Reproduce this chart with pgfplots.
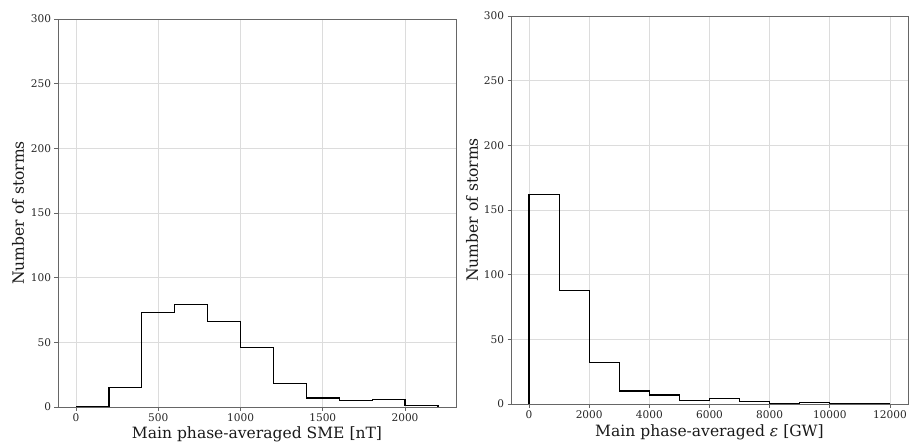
\documentclass[border=0pt]{standalone}
\usepackage{pgfplots}
\pgfplotsset{compat=1.18}
\usepackage{fontspec}
\setmainfont{DejaVu Serif}

\definecolor{framegray}{HTML}{666666}
\definecolor{gridgray}{HTML}{DCDCDC}
\definecolor{labelgray}{HTML}{262626}

\pgfplotsset{
  histax/.style={
    scale only axis,
    anchor=south west,
    ymin=0, ymax=300,
    ytick={0,50,100,150,200,250,300},
    grid=major,
    major grid style={gridgray, line width=0.8pt},
    axis line style={framegray, line width=0.8pt},
    tick style={framegray, line width=0.8pt},
    major tick length=3.5bp,
    tick align=outside,
    xtick pos=bottom, ytick pos=left,
    scaled ticks=false,
    /pgf/number format/1000 sep={},
    /pgf/number format/assume math mode=true,
    tick label style={font=\fontsize{10.6}{12}\selectfont, text=labelgray},
    label style={font=\fontsize{15.6}{18}\selectfont, text=black!90},
    ylabel={Number of storms},
  },
}

\begin{document}
\begin{tikzpicture}
\useasboundingbox (0,0) rectangle (909bp,443bp);

% left: SME
\begin{axis}[histax,
  at={(58bp,36bp)}, width=398bp, height=388bp,
  xmin=-110, xmax=2310,
  xtick={0,500,1000,1500,2000},
  xlabel={Main phase-averaged SME [nT]},
  xlabel style={at={(axis description cs:0.5,-0.08)}, anchor=base},
  ylabel style={at={(axis description cs:-0.1005,0.5)}, anchor=center},
]
\addplot[const plot, black, line width=1.2pt] coordinates {
  (0,0) (200,15) (400,73) (600,79) (800,66) (1000,46) (1200,18)
  (1400,7) (1600,5) (1800,6) (2000,1) (2200,1) (2200,0)
};
\end{axis}

% right: epsilon
\begin{axis}[histax,
  at={(511bp,39bp)}, width=397bp, height=388bp,
  xmin=-600, xmax=12600,
  xtick={0,2000,4000,6000,8000,10000,12000},
  xlabel={Main phase-averaged \textit{ε} [GW]},
  xlabel style={at={(axis description cs:0.5,-0.0825)}, anchor=base},
  ylabel style={at={(axis description cs:-0.098,0.5)}, anchor=center},
]
\addplot[const plot, black, line width=1.2pt] coordinates {
  (0,0) (0,162) (1000,88) (2000,32) (3000,10) (4000,7) (5000,3)
  (6000,4) (7000,2) (8000,0) (9000,1) (10000,0) (11000,0) (12000,0)
};
\end{axis}
\end{tikzpicture}
\end{document}
